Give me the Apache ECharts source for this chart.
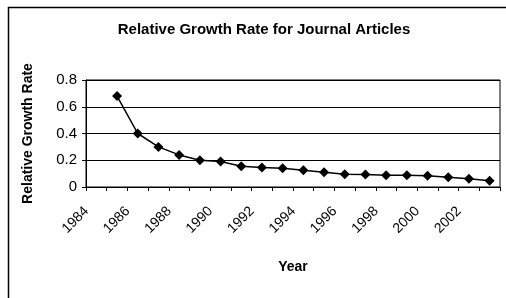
<!DOCTYPE html>
<html>
<head>
<meta charset="utf-8">
<script src="https://cdn.jsdelivr.net/npm/echarts@6/dist/echarts.min.js"></script>
<style>
html,body{margin:0;padding:0;background:#fff;}
#chart{width:506px;height:298px;}
</style>
</head>
<body>
<div id="chart"></div>
<script>
const years = ['1984','1985','1986','1987','1988','1989','1990','1991','1992','1993','1994','1995','1996','1997','1998','1999','2000','2001','2002','2003'];
const growthRate = [null, 0.68, 0.40, 0.30, 0.24, 0.20, 0.19, 0.155, 0.145, 0.14, 0.125, 0.11, 0.095, 0.094, 0.088, 0.088, 0.085, 0.073, 0.062, 0.047];
const yTicks = [0, 0.2, 0.4, 0.6, 0.8];

const FONT = '"Liberation Sans", Arial, sans-serif';
const chart = echarts.init(document.getElementById('chart'), null, {renderer: 'canvas'});
chart.setOption({
  animation: false,
  backgroundColor: '#fff',
  title: {
    text: 'Relative Growth Rate for Journal Articles',
    left: 259, top: 17, textAlign: 'center',
    textStyle: {fontFamily: FONT, fontSize: 15, fontWeight: 'bold', color: '#000'}
  },
  graphic: [{
    type: 'rect', left: 6, top: 5, silent: true,
    shape: {width: 540, height: 330},
    style: {fill: null, stroke: '#000', lineWidth: 1.5}
  }],
  grid: {left: 86, right: 6, top: 80, bottom: 111, show: true, borderColor: '#000', borderWidth: 1, backgroundColor: 'transparent'},
  xAxis: {
    type: 'category', data: years, boundaryGap: true,
    name: 'Year', nameLocation: 'middle', nameGap: 73,
    nameTextStyle: {fontFamily: FONT, fontSize: 14, fontWeight: 'bold', color: '#000'},
    axisLine: {lineStyle: {color: '#000', width: 1}},
    axisTick: {show: true, interval: 0, length: 4, inside: false, lineStyle: {color: '#000'}},
    axisLabel: {interval: 1, rotate: 45, margin: 12, padding: [0, 14, 0, 0], fontFamily: FONT, fontSize: 14, color: '#000'},
    splitLine: {show: false}
  },
  yAxis: {
    type: 'value', min: 0, max: 0.8, interval: 0.2,
    name: 'Relative Growth Rate', nameLocation: 'middle', nameGap: 51, nameRotate: 90,
    nameTextStyle: {fontFamily: FONT, fontSize: 14, fontWeight: 'bold', color: '#000'},
    axisLine: {show: true, lineStyle: {color: '#000', width: 1}},
    axisTick: {show: true, length: 4, lineStyle: {color: '#000'}},
    axisLabel: {margin: 9, fontFamily: FONT, fontSize: 15, color: '#000',
      formatter: function (v) { return yTicks.indexOf(Math.round(v*10)/10) >= 0 ? String(Math.round(v*10)/10) : ''; }},
    splitLine: {show: true, lineStyle: {color: '#000', width: 1}}
  },
  series: [{
    type: 'line', data: growthRate, connectNulls: false,
    symbol: 'diamond', symbolSize: 10, showSymbol: true,
    lineStyle: {color: '#000', width: 1.5},
    itemStyle: {color: '#000'}
  }]
});
</script>
</body>
</html>
